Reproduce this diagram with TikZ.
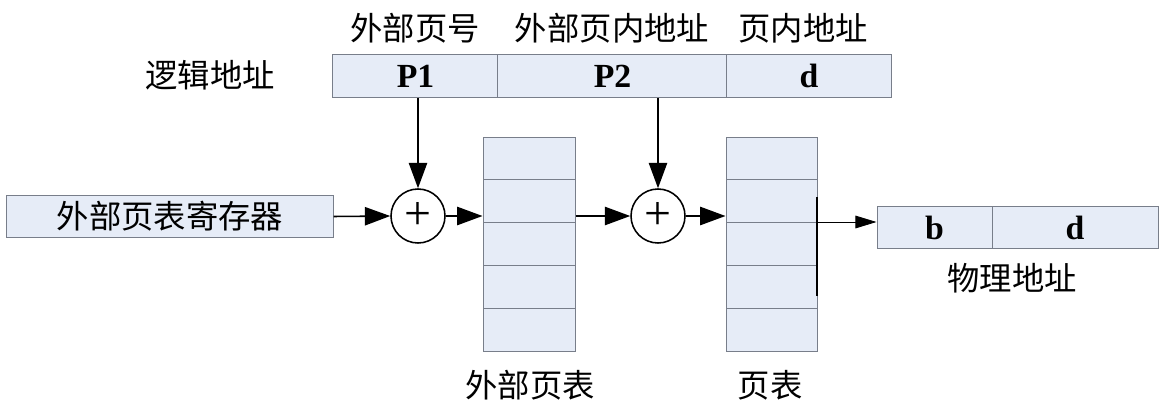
\documentclass[tikz,border=0pt]{standalone}
\usepackage{fontspec}
\setmainfont{Liberation Serif}
\newfontfamily\cjk{Noto Sans CJK SC}
\usetikzlibrary{arrows.meta}
\definecolor{cellfill}{RGB}{230,236,247}
\definecolor{celldraw}{RGB}{120,126,138}
\newcommand{\zh}{\cjk\fontsize{23}{27}\selectfont}
\newcommand{\lat}{\fontsize{24}{28}\selectfont\bfseries}

\tikzset{
  cell/.style={draw=celldraw,fill=cellfill,line width=0.7pt,inner sep=0pt,minimum height=1.07cm},
  adder/.style={circle,draw,line width=1.1pt,minimum size=1.35cm,inner sep=0pt,font=\fontsize{34}{34}\selectfont},
  flow/.style={line width=1.1pt,-{Triangle[length=18pt,width=13pt]}},
  thin flow/.style={line width=0.6pt,-{Triangle[length=15pt,width=9pt]}},
  lbl/.style={font=\zh,inner sep=0pt}
}

\begin{document}
\begin{tikzpicture}[x=0.025cm,y=-0.025cm]
\useasboundingbox (0,0) rectangle (1161,415);
% logical address
\node[cell,minimum width=4.125cm,font=\lat] (p1) at (415.5,76) {P1};
\node[cell,minimum width=5.725cm,font=\lat] (p2) at (612.5,76) {P2};
\node[cell,minimum width=4.1cm,font=\lat] (ld) at (809,76) {d};
\node[lbl] (lp1) at (415,28) {外部页号};
\node[lbl] (lp2) at (612,28) {外部页内地址};
\node[lbl] (lpd) at (803,28) {页内地址};
\node[lbl] (logic) at (210,75) {逻辑地址};
% register and adders
\node[cell,minimum width=8.15cm,font=\zh] (reg) at (170,216.5) {外部页表寄存器};
\node[adder] (c1) at (418,216) {+};
\node[adder] (c2) at (658,216) {+};
% outer page table and page table
\foreach \i in {1,...,5}{
  \node[cell,minimum width=2.3cm] (o\i) at (529,{158.4+42.8*(\i-1)}) {};
  \node[cell,minimum width=2.275cm] (t\i) at (771.5,{158.4+42.8*(\i-1)}) {};
}
\node[lbl] (lo) at (530,385) {外部页表};
\node[lbl] (lt) at (770,385) {页表};
% physical address
\node[cell,minimum width=2.875cm,font=\lat] (pb) at (934.5,227.5) {b};
\node[cell,minimum width=4.15cm,font=\lat] (pd) at (1075,227.5) {d};
\node[lbl] (phys) at (1012,278) {物理地址};
% connectors
\draw[flow] (c1 |- p1.south) -- (c1.north);
\draw[flow] (c2 |- p2.south) -- (c2.north);
\draw[flow] (reg.east) -- (c1.west);
\draw[flow] (c1.east) -- (c1 -| o1.west);
\draw[flow] (c1 -| o1.east) -- (c2.west);
\draw[flow] (c2.east) -- (c2 -| t1.west);
\draw[line width=1.5pt] (817,197) -- (817,296);
\coordinate (tap) at (817,222);
\draw[thin flow] (tap) -- (tap -| pb.west);
\end{tikzpicture}
\end{document}
